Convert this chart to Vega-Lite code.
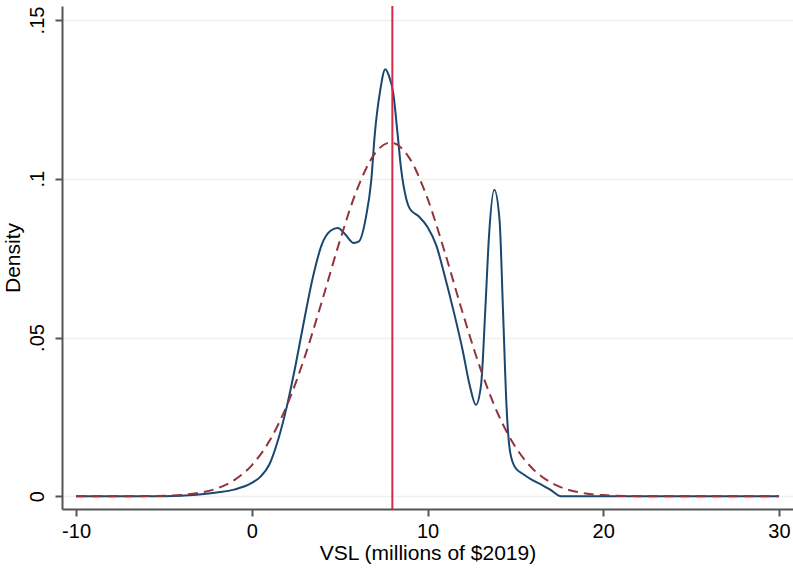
{
  "$schema": "https://vega.github.io/schema/vega-lite/v6.json",
  "width": 731,
  "height": 503,
  "autosize": {"type": "none"},
  "padding": {"left": 62, "top": 6, "right": 0, "bottom": 59},
  "background": "white",
  "config": {
    "view": {"stroke": null},
    "font": "Liberation Sans",
    "axis": {
      "labelFont": "Liberation Sans",
      "titleFont": "Liberation Sans",
      "labelFontSize": 20,
      "titleFontSize": 21,
      "titleFontWeight": "normal",
      "labelColor": "#000000",
      "titleColor": "#000000",
      "domainColor": "#555555",
      "domainWidth": 2,
      "tickColor": "#555555",
      "tickWidth": 2,
      "tickSize": 7,
      "gridColor": "#eaf2f3",
      "gridWidth": 1.5
    }
  },
  "datasets": {
    "kde": [
      {"x": -10, "y": 0}, {"x": -6, "y": 0}, {"x": -4, "y": 0.0002}, {"x": -3, "y": 0.0006},
      {"x": -2, "y": 0.0012}, {"x": -1, "y": 0.0021}, {"x": 0, "y": 0.0042}, {"x": 0.5, "y": 0.0062},
      {"x": 1, "y": 0.0100}, {"x": 1.5, "y": 0.0178}, {"x": 2, "y": 0.0284}, {"x": 2.5, "y": 0.0415},
      {"x": 3, "y": 0.0560}, {"x": 3.5, "y": 0.0695}, {"x": 4, "y": 0.0795}, {"x": 4.5, "y": 0.0837},
      {"x": 4.9, "y": 0.0845}, {"x": 5.3, "y": 0.0826}, {"x": 5.8, "y": 0.0798}, {"x": 6.1, "y": 0.0803},
      {"x": 6.5, "y": 0.0880}, {"x": 6.8, "y": 0.0995}, {"x": 7.0, "y": 0.1140}, {"x": 7.3, "y": 0.1275},
      {"x": 7.6, "y": 0.1345}, {"x": 7.8, "y": 0.1325}, {"x": 8.05, "y": 0.1270}, {"x": 8.3, "y": 0.1140},
      {"x": 8.5, "y": 0.1030}, {"x": 8.8, "y": 0.0935}, {"x": 9.0, "y": 0.0905}, {"x": 9.5, "y": 0.0882},
      {"x": 10.0, "y": 0.0848}, {"x": 10.5, "y": 0.0790}, {"x": 11.0, "y": 0.0690}, {"x": 11.5, "y": 0.0580},
      {"x": 12.0, "y": 0.0460}, {"x": 12.4, "y": 0.0350}, {"x": 12.75, "y": 0.0288}, {"x": 13.05, "y": 0.0352},
      {"x": 13.3, "y": 0.0600}, {"x": 13.5, "y": 0.0820}, {"x": 13.8, "y": 0.0965}, {"x": 14.1, "y": 0.0870},
      {"x": 14.3, "y": 0.0580}, {"x": 14.5, "y": 0.0280}, {"x": 14.7, "y": 0.0140}, {"x": 15.0, "y": 0.0090},
      {"x": 15.5, "y": 0.0068}, {"x": 16.0, "y": 0.0050}, {"x": 16.5, "y": 0.0036}, {"x": 17.0, "y": 0.0020},
      {"x": 17.6, "y": 0}, {"x": 20, "y": 0}, {"x": 30, "y": 0}
    ],
    "normal": [
      {"x": -10, "y": 0}, {"x": -6, "y": 0.00006}, {"x": -4, "y": 0.00044}, {"x": -3, "y": 0.00108},
      {"x": -2, "y": 0.00243}, {"x": -1, "y": 0.00507}, {"x": 0, "y": 0.00976}, {"x": 1, "y": 0.01738},
      {"x": 2, "y": 0.02864}, {"x": 3, "y": 0.04366}, {"x": 4, "y": 0.06155}, {"x": 5, "y": 0.08024},
      {"x": 6, "y": 0.09676}, {"x": 7, "y": 0.10793}, {"x": 7.9, "y": 0.1114}, {"x": 9, "y": 0.10626},
      {"x": 10, "y": 0.09379}, {"x": 11, "y": 0.07656}, {"x": 12, "y": 0.05782}, {"x": 13, "y": 0.04038},
      {"x": 14, "y": 0.02608}, {"x": 15, "y": 0.01559}, {"x": 16, "y": 0.00861}, {"x": 17, "y": 0.0044},
      {"x": 18, "y": 0.00208}, {"x": 19, "y": 0.00091}, {"x": 20, "y": 0.00037}, {"x": 22, "y": 0.00005},
      {"x": 25, "y": 0}, {"x": 30, "y": 0}
    ],
    "marker": [{"x": 8}]
  },
  "layer": [
    {
      "data": {"name": "kde"},
      "mark": {"type": "line", "color": "#1a476f", "strokeWidth": 2, "interpolate": "monotone", "clip": true},
      "encoding": {
        "x": {
          "field": "x", "type": "quantitative",
          "scale": {"domain": [-10.8, 30.8], "nice": false, "zero": false},
          "axis": {"values": [-10, 0, 10, 20, 30], "title": "VSL (millions of $2019)", "grid": false, "labelPadding": 5, "titlePadding": 1, "labelExpr": "'' + datum.value"}
        },
        "y": {
          "field": "y", "type": "quantitative",
          "scale": {"domain": [-0.004, 0.1544], "nice": false, "zero": false},
          "axis": {
            "values": [0, 0.05, 0.1, 0.15], "title": "Density", "grid": true,
            "labelAngle": -90, "labelAlign": "center", "labelBaseline": "bottom", "labelPadding": 8,
            "labelExpr": "datum.value == 0 ? '0' : replace(format(datum.value, '~g'), '0.', '.')",
            "titlePadding": 4
          }
        }
      }
    },
    {
      "data": {"name": "normal"},
      "mark": {"type": "line", "color": "#90353b", "strokeWidth": 2, "strokeDash": [10, 6], "interpolate": "monotone", "clip": true},
      "encoding": {
        "x": {"field": "x", "type": "quantitative"},
        "y": {"field": "y", "type": "quantitative"}
      }
    },
    {
      "data": {"name": "marker"},
      "mark": {"type": "rule", "color": "#d6294a", "strokeWidth": 2},
      "encoding": {
        "x": {"field": "x", "type": "quantitative"}
      }
    }
  ]
}
